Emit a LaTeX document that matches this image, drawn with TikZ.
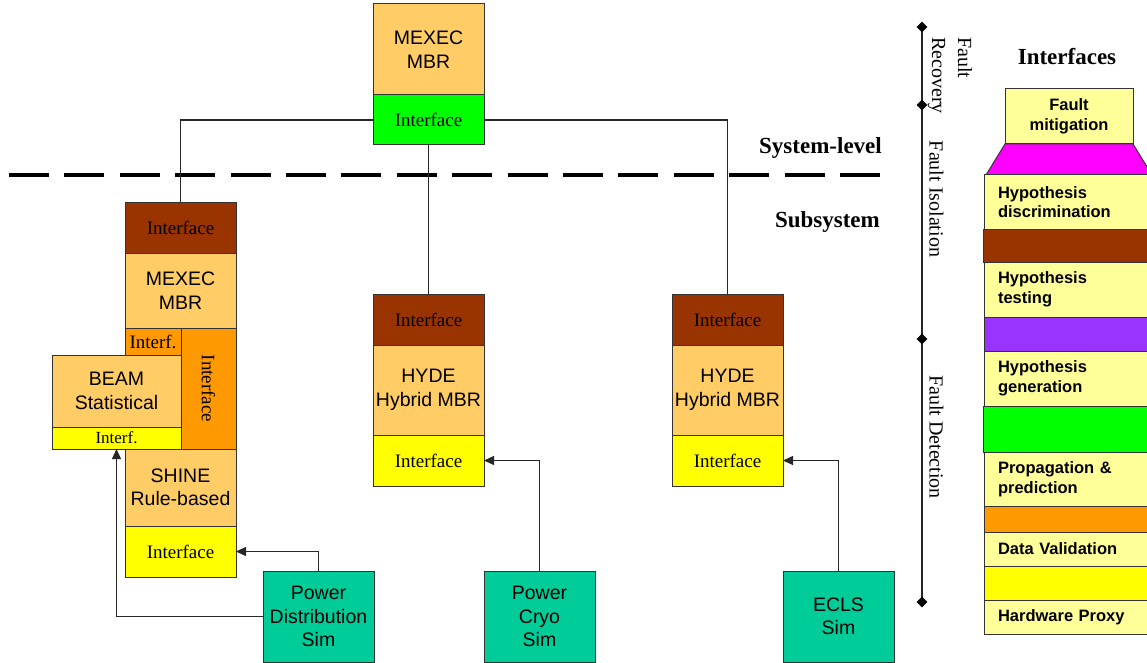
\documentclass[tikz,border=0pt]{standalone}
\usepackage{fontspec}
\setmainfont{Liberation Sans}
\newfontfamily\tnr{Liberation Serif}
\usetikzlibrary{arrows.meta,shapes.geometric}
\definecolor{lorange}{RGB}{255,204,102}
\definecolor{ibrown}{RGB}{153,51,0}
\definecolor{iorange}{RGB}{255,153,0}
\definecolor{iyellow}{RGB}{255,255,0}
\definecolor{igreen}{RGB}{0,255,0}
\definecolor{iteal}{RGB}{0,204,153}
\definecolor{lyellow}{RGB}{255,255,153}
\definecolor{imagenta}{RGB}{255,0,255}
\definecolor{ipurple}{RGB}{153,51,255}
\begin{document}
\begin{tikzpicture}[x=1pt,y=-1pt,
  box/.style={draw=black!80,line width=1pt,inner sep=0pt,outer sep=0pt,align=center,
    font=\fontsize{19.5}{23.5}\selectfont},
  ifc/.style={box,font=\tnr\fontsize{19}{22}\selectfont},
  conn/.style={draw=black!85,line width=1.1pt},
  arr/.style={conn,-{Triangle[length=10pt,width=9pt]}},
  stk/.style={draw=black!80,line width=1pt,inner ysep=0pt,inner xsep=14pt,outer sep=0pt,
    text width=148pt,align=left,font=\bfseries\fontsize{16.5}{19.5}\selectfont,fill=lyellow},
  band/.style={draw=black!80,line width=1pt,inner sep=0pt,outer sep=0pt,minimum width=176pt},
  lbl/.style={font=\tnr\bfseries\fontsize{23}{27}\selectfont,inner sep=0pt},
  phase/.style={font=\tnr\fontsize{20}{26}\selectfont,inner sep=0pt,rotate=-90,align=left},
  dmd/.style={diamond,fill=black,inner sep=0pt,minimum size=11pt}
]
\useasboundingbox (0,0) rectangle (1147,663);
\clip (0,0) rectangle (1147,663);

% dashed separator
\coordinate (dl) at (9,175);
\coordinate (dr) at (880,175);
\draw[line width=4.5pt,dash pattern=on 40pt off 15.4pt] (dl) -- (dr);

% top level
\node[box,fill=lorange,minimum width=111pt,minimum height=91pt] (topm) at (428.5,49.5) {MEXEC\\MBR};
\node[ifc,fill=igreen,minimum width=111pt,minimum height=50pt] (topif) at (428.5,120) {Interface};

% left column
\node[ifc,fill=ibrown,minimum width=111pt,minimum height=51pt] (lif) at (180.5,227.5) {Interface};
\node[box,fill=lorange,minimum width=111pt,minimum height=75pt] (lm) at (180.5,290.5) {MEXEC\\MBR};
\node[ifc,fill=iorange,minimum width=56pt,minimum height=27pt] (lsmall) at (153,341.5) {Interf.};
\node[ifc,fill=iorange,rotate=-90,minimum width=121pt,minimum height=55pt] (lvert) at (208.5,388.5) {Interface};
\node[box,fill=lorange,minimum width=129pt,minimum height=72pt] (beam) at (116.5,391) {BEAM\\Statistical};
\node[ifc,fill=iyellow,minimum width=129pt,minimum height=22pt,font=\tnr\fontsize{17}{20}\selectfont] (beamif) at (116.5,438) {Interf.};
\node[box,fill=lorange,minimum width=111pt,minimum height=77pt] (shine) at (180.5,487.5) {SHINE\\Rule-based};
\node[ifc,fill=iyellow,minimum width=111pt,minimum height=51pt] (shineif) at (180.5,551.5) {Interface};

% middle column
\node[ifc,fill=ibrown,minimum width=111pt,minimum height=51pt] (mif) at (428.5,319.5) {Interface};
\node[box,fill=lorange,minimum width=111pt,minimum height=90pt] (mh) at (428.5,390) {HYDE\\Hybrid MBR};
\node[ifc,fill=iyellow,minimum width=111pt,minimum height=51pt] (mif2) at (428.5,460.5) {Interface};

% right column
\node[ifc,fill=ibrown,minimum width=111pt,minimum height=51pt] (rif) at (727.5,319.5) {Interface};
\node[box,fill=lorange,minimum width=111pt,minimum height=90pt] (rh) at (727.5,390) {HYDE\\Hybrid MBR};
\node[ifc,fill=iyellow,minimum width=111pt,minimum height=51pt] (rif2) at (727.5,460.5) {Interface};

% simulators
\node[box,fill=iteal,minimum width=111pt,minimum height=91pt] (pd) at (318.5,616.5) {Power\\Distribution\\Sim};
\node[box,fill=iteal,minimum width=111pt,minimum height=91pt] (pc) at (539.5,616.5) {Power\\Cryo\\Sim};
\node[box,fill=iteal,minimum width=111pt,minimum height=91pt] (ecls) at (838.5,616.5) {ECLS\\Sim};

% connectors
\draw[conn] (topif.west) -| (lif.north);
\draw[conn] (topif.south) -- (mif.north);
\draw[conn] (topif.east) -| (rif.north);
\draw[arr] (pd.north) |- (shineif.east);
\draw[arr] (pd.west) -| (beamif.south);
\draw[arr] (pc.north) |- (mif2.east);
\draw[arr] (ecls.north) |- (rif2.east);

% level labels
\node[lbl,anchor=east] (syslbl) at (882,148) {System-level};
\node[lbl,anchor=east] (sublbl) at (880,222) {Subsystem};

% phase timeline
\coordinate (t1) at (922,27);
\coordinate (t2) at (922,105);
\coordinate (t3) at (922,339);
\coordinate (t4) at (922,602);
\draw[conn] (t1) -- (t4);
\node[dmd] (d1) at (t1) {};
\node[dmd] (d2) at (t2) {};
\node[dmd] (d3) at (t3) {};
\node[dmd] (d4) at (t4) {};
\node[phase,anchor=west] (frec) at (950,37) {Fault\\Recovery};
\node[phase] (fiso) at (936.5,199) {Fault Isolation};
\node[phase] (fdet) at (936.5,437) {Fault Detection};

% interfaces stack
\node[lbl] (ifh) at (1067,57) {Interfaces};
\node[box,fill=lyellow,minimum width=128pt,minimum height=55pt,font=\bfseries\fontsize{16.5}{19.5}\selectfont] (fm) at (1069,116.5) {Fault\\mitigation};
\coordinate (trl) at (986,175);
\coordinate (trr) at (1152,175);
\filldraw[fill=imagenta,draw=black!80,line width=1pt] (fm.south west) -- (trl) -- (trr) -- (fm.south east) -- cycle;
\node[stk,minimum height=54pt] (hd) at (1072,202) {Hypothesis\\discrimination};
\node[band,fill=ibrown,minimum height=33pt,minimum width=178pt] (b1) at (1072,245.5) {};
\node[stk,minimum height=55pt] (ht) at (1072,289.5) {Hypothesis\\testing};
\node[band,fill=ipurple,minimum height=34pt] (b2) at (1072,334) {};
\node[stk,minimum height=55pt] (hg) at (1072,378.5) {Hypothesis\\generation};
\node[band,fill=igreen,minimum height=46pt,minimum width=178pt] (b3) at (1072,429) {};
\node[stk,minimum height=54pt] (pp) at (1072,479) {Propagation \&\\prediction};
\node[band,fill=iorange,minimum height=26pt] (b4) at (1072,519) {};
\node[stk,minimum height=34pt] (dv) at (1072,549) {Data Validation};
\node[band,fill=iyellow,minimum height=34pt] (b5) at (1072,583) {};
\node[stk,minimum height=34pt] (hp) at (1072,617) {Hardware Proxy};
\end{tikzpicture}
\end{document}
